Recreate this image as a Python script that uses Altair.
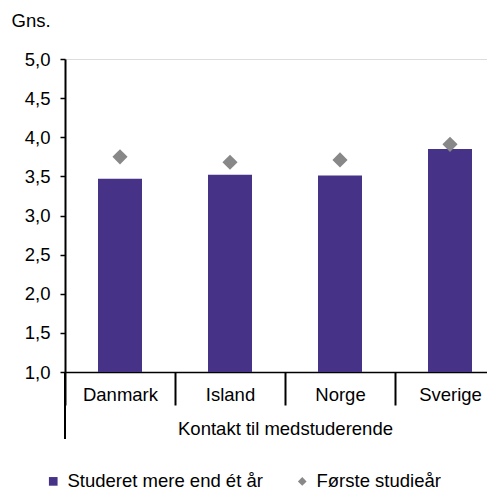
import altair as alt
import pandas as pd

countries = ["Danmark", "Island", "Norge", "Sverige"]
bar_values = [3.47, 3.52, 3.51, 3.85]
point_values = [3.75, 3.68, 3.71, 3.91]
series_names = ["Studeret mere end ét år", "Første studieår"]
y_ticks = [1.0, 1.5, 2.0, 2.5, 3.0, 3.5, 4.0, 4.5, 5.0]

FONT = "Liberation Sans"
PURPLE = "#463388"
GREY = "#888888"
FS = 18.5

bars_df = pd.DataFrame({"land": countries, "v": bar_values, "serie": series_names[0]})
pts_df = pd.DataFrame({"land": countries, "v": point_values, "serie": series_names[1]})

W, H = 440, 313

x_enc = alt.X(
    "land:N",
    sort=countries,
    scale=alt.Scale(paddingInner=0, paddingOuter=0),
    axis=alt.Axis(
        title="Kontakt til medstuderende",
        titleFont=FONT, titleFontSize=FS, titleFontWeight="normal", titleColor="black",
        titleY=62, titleBaseline="alphabetic",
        labelFont=FONT, labelFontSize=FS, labelColor="black", labelAngle=0,
        labelPadding=-5, labelBaseline="alphabetic", labelOverlap=False,
        tickBand="extent", tickSize=33, tickColor="black", tickWidth=2,
        domainColor="black", domainWidth=1.5,
    ),
)

y_enc = alt.Y(
    "v:Q",
    scale=alt.Scale(domain=[1, 5], nice=False, zero=False),
    axis=alt.Axis(
        title="Gns.", titleAngle=0, titleX=-54, titleY=-33, titleAlign="left",
        titleBaseline="alphabetic",
        titleFont=FONT, titleFontSize=FS, titleFontWeight="normal", titleColor="black",
        values=y_ticks, labelOverlap=False,
        labelExpr="replace(format(datum.value, '.1f'), '.', ',')",
        labelFont=FONT, labelFontSize=FS, labelColor="black", labelPadding=10,
        tickSize=5, tickColor="black", tickWidth=1.5,
        domainColor="black", domainWidth=2, grid=False,
    ),
)

color_scale = alt.Scale(domain=series_names, range=[PURPLE, GREY])
shape_scale = alt.Scale(domain=series_names, range=["square", "diamond"])
legend = alt.Legend(
    title=None, orient="none", legendX=-21, legendY=413, direction="horizontal",
    labelFont=FONT, labelFontSize=FS, labelColor="black", symbolSize=75,
    symbolStrokeWidth=0, columnPadding=30, labelOffset=5, symbolOpacity=1,
    labelLimit=400,
)

bars = alt.Chart(bars_df).mark_bar(color=PURPLE, width=alt.RelativeBandSize(0.4)).encode(
    x=x_enc, y=y_enc, y2=alt.datum(1),
    color=alt.Color("serie:N", scale=color_scale, legend=legend),
)

pts = alt.Chart(pts_df).mark_point(filled=True, size=230, opacity=1).encode(
    x=x_enc, y=y_enc,
    color=alt.Color("serie:N", scale=color_scale, legend=legend),
    shape=alt.Shape("serie:N", scale=shape_scale, legend=legend),
)

ext = alt.Chart(pd.DataFrame({"a": [0]})).mark_rule(color="black", strokeWidth=2).encode(
    x=alt.value(0), y=alt.value(H), y2=alt.value(H + 67)
)

chart = alt.layer(bars, pts, ext).properties(
    width=W, height=H,
    autosize=alt.AutoSizeParams(type="none"),
    padding={"left": 57, "top": 51, "right": -18, "bottom": 118},
).configure_view(stroke=None).configure(background="white")

chart.save("out.html", embed_options={"renderer": "svg", "actions": False})
